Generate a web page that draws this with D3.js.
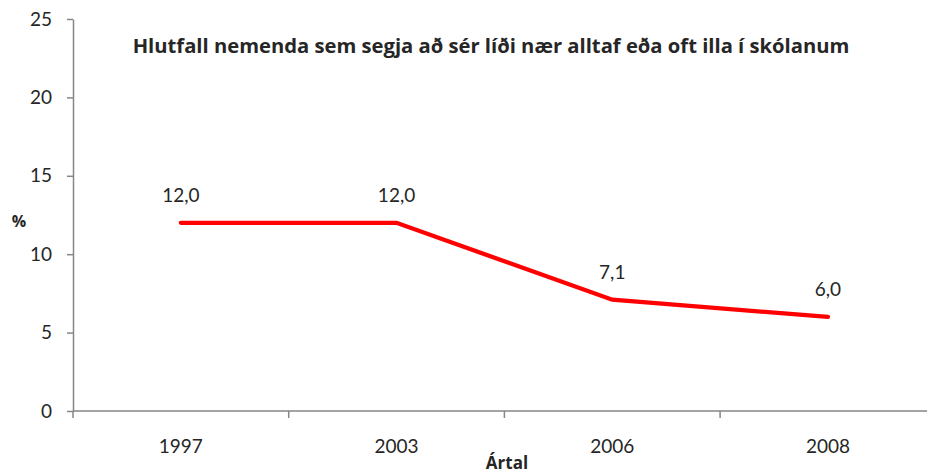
<!DOCTYPE html>
<html>
<head>
<meta charset="utf-8">
<script src="https://cdn.jsdelivr.net/npm/d3@7"></script>
<style>
	body { margin: 0; background: #fff; }
	text { font-family: Lato, "Open Sans", sans-serif; fill: #262626; }
</style>
</head>
<body>
<script>
var years = ['1997', '2003', '2006', '2008'];
var values = [12.0, 12.0, 7.1, 6.0];
var yTicks = [0, 5, 10, 15, 20, 25];

var title = 'Hlutfall nemenda sem segja að sér líði nær alltaf eða oft illa í skólanum';

var width = 927, height = 473;
var plotLeft = 73, plotTop = 19, plotBottom = 411;
var band = 215.7;

var svg = d3.select('body')
	.append('svg')
	.attr('width', width)
	.attr('height', height);

var x = d3.scaleBand()
	.domain(years)
	.range([plotLeft, plotLeft + band * years.length]);

var y = d3.scaleLinear()
	.domain([0, 25])
	.range([plotBottom, plotTop]);

var axisColor = '#868686';

// y axis
var yAxis = svg.append('g')
	.attr('transform', 'translate(' + plotLeft + ',0)')
	.call(d3.axisLeft(y).tickValues(yTicks).tickSize(6).tickPadding(15).tickSizeOuter(0));
yAxis.select('.domain').attr('stroke', axisColor).attr('stroke-width', 1.5);
yAxis.selectAll('.tick line').attr('stroke', axisColor).attr('stroke-width', 1.5);
yAxis.selectAll('.tick text')
	.style('font-size', '19px')
	.attr('fill', '#262626');

// x axis: ticks sit on the band edges
var edges = years.map(function(d) { return x(d); });
edges.push(x.range()[1]);

var xAxis = svg.append('g')
	.attr('transform', 'translate(0,' + plotBottom + ')');
xAxis.append('line')
	.attr('x1', plotLeft).attr('x2', width)
	.attr('stroke', axisColor).attr('stroke-width', 1.5);
xAxis.selectAll('line.edge')
	.data(edges)
	.enter()
	.append('line')
	.attr('class', 'edge')
	.attr('x1', function(d) { return d; })
	.attr('x2', function(d) { return d; })
	.attr('y1', 0).attr('y2', 7)
	.attr('stroke', axisColor).attr('stroke-width', 1.5);
xAxis.selectAll('text')
	.data(years)
	.enter()
	.append('text')
	.attr('x', function(d) { return x(d) + x.bandwidth() / 2; })
	.attr('y', 42)
	.attr('text-anchor', 'middle')
	.style('font-size', '19px')
	.text(function(d) { return d; });

// series
var pts = years.map(function(d, i) { return {year: d, value: values[i]}; });

var line = d3.line()
	.x(function(d) { return x(d.year) + x.bandwidth() / 2; })
	.y(function(d) { return y(d.value); });

svg.append('path')
	.datum(pts)
	.attr('d', line)
	.attr('fill', 'none')
	.attr('stroke', '#ff0000')
	.attr('stroke-width', 4.3)
	.attr('stroke-linecap', 'round');

svg.selectAll('text.lbl')
	.data(pts)
	.enter()
	.append('text')
	.attr('class', 'lbl')
	.attr('x', function(d) { return x(d.year) + x.bandwidth() / 2; })
	.attr('y', function(d) { return y(d.value) - 21; })
	.attr('text-anchor', 'middle')
	.style('font-size', '19px')
	.text(function(d) { return d3.format('.1f')(d.value).replace('.', ','); });

// title, sized so it spans the same width as the original
var t = svg.append('text')
	.attr('x', 491)
	.attr('y', 53)
	.attr('text-anchor', 'middle')
	.style('font-family', '"Open Sans", sans-serif')
	.style('font-size', '16px')
	.style('font-weight', 'bold')
	.text(title);
var tw = t.node().getComputedTextLength();
t.style('font-size', (16 * 717 / tw) + 'px');

svg.append('text')
	.attr('x', 19)
	.attr('y', 227)
	.attr('text-anchor', 'middle')
	.style('font-family', '"Open Sans", sans-serif')
	.style('font-size', '16px')
	.style('font-weight', 'bold')
	.text('%');

svg.append('text')
	.attr('x', 507)
	.attr('y', 469)
	.attr('text-anchor', 'middle')
	.style('font-family', '"Open Sans", sans-serif')
	.style('font-size', '17px')
	.style('font-weight', 'bold')
	.text('Ártal');
</script>
</body>
</html>
